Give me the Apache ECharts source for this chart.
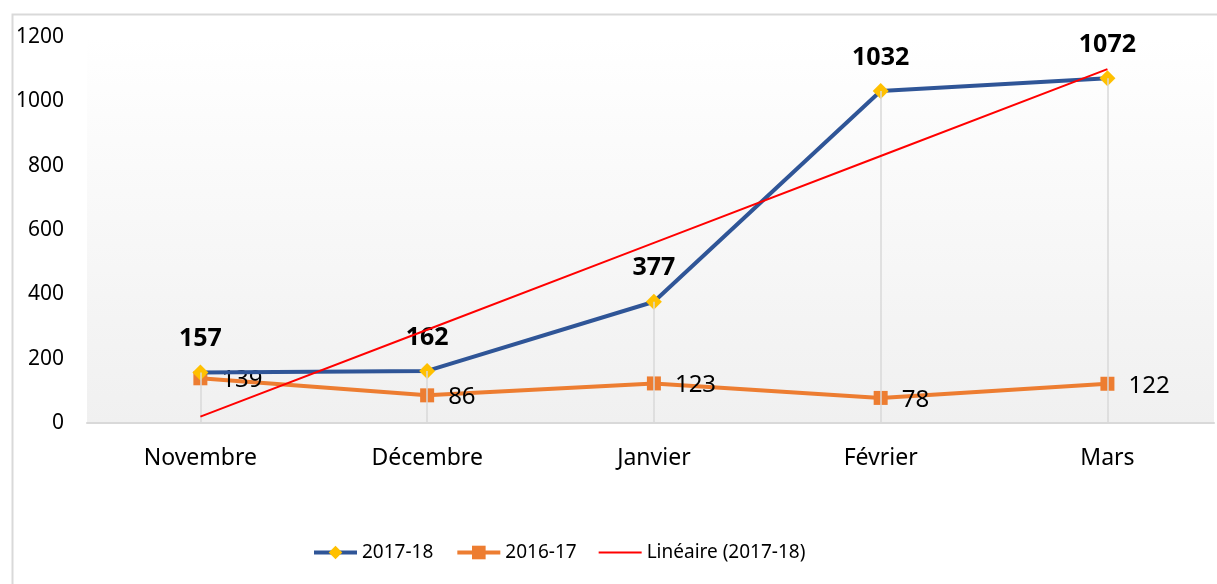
<!DOCTYPE html>
<html><head><meta charset="utf-8">
<script src="https://cdn.jsdelivr.net/npm/echarts@6/dist/echarts.min.js"></script>
<style>html,body{margin:0;padding:0;background:#fff}#c{width:1217px;height:584px}</style>
</head><body><div id="c"></div>
<script>
var categories = ['Novembre', 'Décembre', 'Janvier', 'Février', 'Mars'];
var values2017 = [157, 162, 377, 1032, 1072];
var values2016 = [139, 86, 123, 78, 122];
var trendValues = [20, 290, 560, 830, 1100];
var yTicks = [0, 200, 400, 600, 800, 1000, 1200];

var FONT = '"Noto Sans", sans-serif';
function pairs(arr) { return arr.map(function (v, i) { return [i, v]; }); }
var chart = echarts.init(document.getElementById('c'), null, {renderer: 'canvas'});
var dropData = values2017.map(function (v, i) {
  return [{coord: [i, v]}, {coord: [i, 0]}];
});
chart.setOption({
  animation: false,
  backgroundColor: '#ffffff',
  textStyle: {fontFamily: FONT},
  graphic: [{
    type: 'rect', left: 10, top: 12, z: -10,
    shape: {x: 0, y: 0, width: 1260, height: 640},
    style: {fill: 'none', stroke: '#d9d9d9', lineWidth: 2}
  }],
  grid: {
    left: 87, top: 37, right: 0, bottom: 161,
    show: true, borderWidth: 0,
    backgroundColor: new echarts.graphic.LinearGradient(0, 0, 0, 1, [
      {offset: 0, color: '#ffffff'}, {offset: 1, color: '#f0f0f0'}
    ])
  },
  legend: {
    data: [
      {name: '2017-18', lineStyle: {width: 4}},
      {name: '2016-17', lineStyle: {width: 4}},
      {name: 'Linéaire (2017-18)', icon: 'path://M0,0L43,0L43,2L0,2Z'}
    ],
    left: 312, top: 543, padding: 0,
    itemWidth: 43, itemHeight: 17, itemGap: 22,
    textStyle: {fontSize: 19, color: '#000', fontFamily: FONT}
  },
  xAxis: {
    type: 'value', min: -0.5, max: 4.47, interval: 0.5,
    axisLine: {lineStyle: {color: '#d9d9d9', width: 2}},
    axisTick: {show: false},
    axisLabel: {
      fontSize: 23, color: '#000', margin: 24, fontFamily: FONT,
      showMinLabel: true, showMaxLabel: true,
      formatter: function (v) {
        var r = Math.round(v);
        return (Math.abs(v - r) < 1e-6 && r >= 0 && r < categories.length) ? categories[r] : '';
      }
    },
    splitLine: {show: false}
  },
  yAxis: {
    type: 'value', min: yTicks[0], max: yTicks[yTicks.length - 1], interval: 200,
    axisLine: {show: false}, axisTick: {show: false},
    splitLine: {show: false},
    axisLabel: {fontSize: 21, color: '#000', margin: 23, fontFamily: FONT,
      formatter: function (v) { return String(v); }}
  },
  series: [
    {
      name: 'drop', type: 'line', data: pairs(values2017), z: 1, silent: true,
      symbol: 'none', lineStyle: {opacity: 0},
      markLine: {
        silent: true, symbol: ['none', 'none'], label: {show: false},
        lineStyle: {color: '#d9d9d9', width: 1.5, type: 'solid'},
        data: dropData
      }
    },
    {
      name: '2016-17', type: 'line', data: pairs(values2016), z: 3,
      symbol: 'rect', symbolSize: 14,
      lineStyle: {color: '#ED7D31', width: 4},
      itemStyle: {color: '#ED7D31'},
      label: {show: true, position: 'right', distance: 14, offset: [0, 2], fontSize: 24, color: '#000', fontFamily: FONT}
    },
    {
      name: '2017-18', type: 'line', data: pairs(values2017), z: 4,
      symbol: 'diamond', symbolSize: 16,
      lineStyle: {color: '#2F5597', width: 4},
      itemStyle: {color: '#FFC000'},
      label: {show: true, position: 'top', distance: 13, fontSize: 25, fontWeight: 'bold', color: '#000', fontFamily: FONT}
    },
    {
      name: 'Linéaire (2017-18)', type: 'line', data: pairs(trendValues), z: 5,
      symbol: 'none', lineStyle: {color: '#FF0000', width: 2},
      itemStyle: {color: '#FF0000'}
    }
  ]
});
</script></body></html>
